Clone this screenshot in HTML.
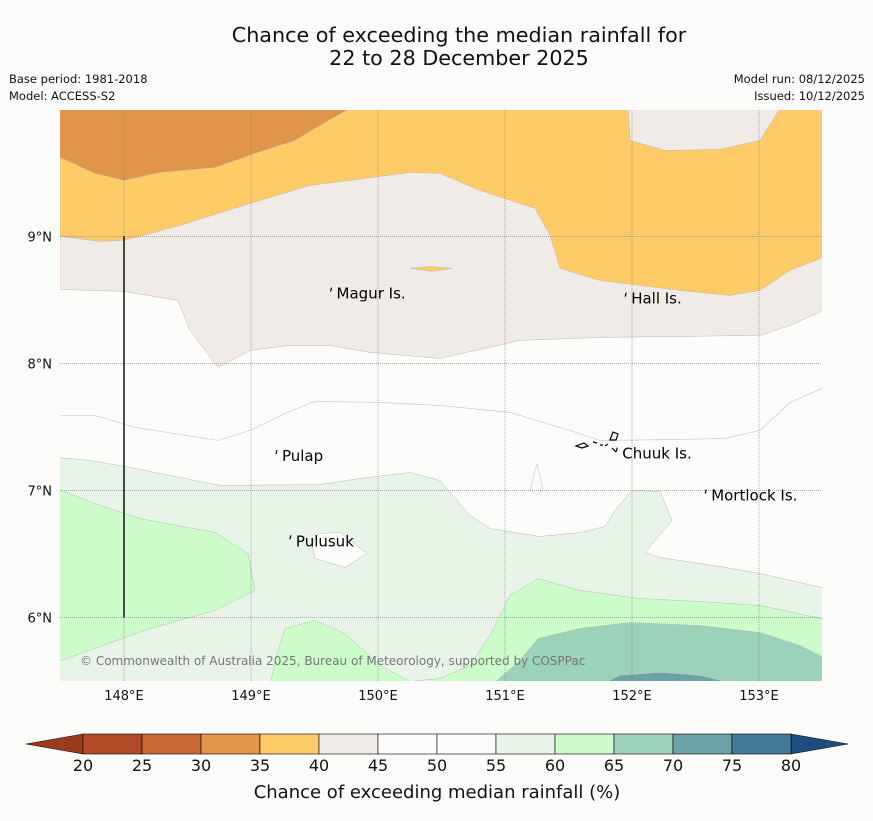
<!DOCTYPE html>
<html><head><meta charset="utf-8">
<style>
html,body{margin:0;padding:0;background:#fbfcfa;}
body{width:873px;height:816px;overflow:hidden;font-family:"Liberation Sans","DejaVu Sans",sans-serif;}
svg text{font-family:"DejaVu Sans","Liberation Sans",sans-serif;}
</style></head>
<body>
<svg id="chart" width="873" height="816" viewBox="0 0 873 816" xmlns="http://www.w3.org/2000/svg">
<rect width="873" height="816" fill="#fbfcfa"/>
<text x="459" y="42" font-size="20.7" text-anchor="middle" fill="#111">Chance of exceeding the median rainfall for</text>
<text x="459" y="65" font-size="20.7" text-anchor="middle" fill="#111">22 to 28 December 2025</text>
<text x="9" y="83" font-size="11.5" fill="#111">Base period: 1981-2018</text>
<text x="9" y="100" font-size="11.5" fill="#111">Model: ACCESS-S2</text>
<text x="865" y="83" font-size="11.5" text-anchor="end" fill="#111">Model run: 08/12/2025</text>
<text x="865" y="100" font-size="11.5" text-anchor="end" fill="#111">Issued: 10/12/2025</text>
<defs><clipPath id="mapclip"><rect x="60" y="110" width="762" height="571"/></clipPath></defs>
<g id="map" clip-path="url(#mapclip)"></g>
<g id="overlay"></g>
<g id="cbar"></g>
</svg>
<script>
const lonMin=147.5, lonMax=153.5, latMin=5.5, latMax=9.995;
const X0=60.5, X1=822.5, Y0=681, Y1=110;
function xs(lon){return X0+(lon-lonMin)/(lonMax-lonMin)*(X1-X0);}
function ys(lat){return Y0-(lat-latMin)/(latMax-latMin)*(Y0-Y1);}
function px2lon(x){return 148+(x-124)/127;}
function px2lat(y){return 9-(y-236)/127;}

const lonTicks=[148,149,150,151,152,153];
const latTicks=[6,7,8,9];
const cbLevels=[20,25,30,35,40,45,50,55,60,65,70,75,80];
const cbColors=["#b24a28","#ca6933","#e0954a","#fecb66","#f0ebe6","#fcfdfb","#fcfdfb","#e9f4e9","#ccfcca","#9cd2b9","#6aa2a6","#437b98"];

const bands=[
 {v:40,pts:[[60,105],[60,289],[124,291],[178,300],[190,330],[218,367],[250,350],[290,345],[330,345],[370,352],[440,358],[520,340],[600,337],[680,336],[760,335],[790,325],[826,309],[826,105]]},
 {v:35,pts:[[60,105],[60,236],[100,241],[124,240],[180,225],[250,203],[310,185],[350,180],[410,172],[440,173],[480,190],[535,208],[550,235],[560,268],[600,280],[680,290],[730,295],[760,290],[790,270],[826,256],[826,105]]},
 {v:40,pts:[[628,105],[630,140],[665,150],[720,149],[760,140],[782,105]]},
 {v:35,pts:[[410,268],[430,266],[452,268],[432,271]]},
 {v:30,pts:[[56,105],[56,155],[95,173],[124,180],[160,172],[215,167],[255,153],[295,140],[320,125],[355,105]]},
 {v:55,pts:[[56,457],[90,460],[130,467],[180,477],[220,485],[320,484],[360,478],[410,472],[440,480],[470,515],[490,528],[540,536],[580,532],[605,526],[615,510],[632,490],[660,491],[672,520],[645,552],[660,557],[720,566],[760,573],[826,588],[826,686],[56,686]]},
 {v:50,pts:[[318,533],[340,532],[367,553],[345,567],[315,558],[312,545]]},
 {v:50,pts:[[537,463],[543,490],[537,494],[530,490]]},
 {v:60,pts:[[56,488],[100,505],[140,518],[215,532],[248,553],[255,590],[215,610],[150,628],[56,662]]},
 {v:60,pts:[[270,686],[275,660],[285,628],[315,620],[345,633],[380,665],[410,681],[440,678],[470,665],[490,635],[510,595],[538,578],[580,590],[640,598],[700,601],[760,605],[826,619],[826,686]]},
 {v:65,pts:[[490,686],[520,660],[538,638],[580,628],[630,622],[700,625],[760,632],[800,645],[826,658],[826,686]]},
 {v:70,pts:[[598,686],[620,675],[660,672],[700,675],[745,686]]}
].map(b=>({v:b.v,pts:b.pts.map(p=>[px2lon(p[0]),px2lat(p[1])])}));
const line5055=[[60,415],[95,415],[135,427],[218,440],[250,430],[285,413],[315,401],[380,402],[440,405],[510,412],[570,430],[600,440],[680,439],[725,438],[760,430],[790,402],[822,388]].map(p=>[px2lon(p[0]),px2lat(p[1])]);

const places=[["Magur Is.",149.65,8.55],["Hall Is.",151.97,8.51],["Pulap",149.22,7.27],["Chuuk Is.",151.9,7.29],["Mortlock Is.",152.6,6.96],["Pulusuk",149.33,6.6]];

const NS="http://www.w3.org/2000/svg";
function mk(tag,attrs,parent){const e=document.createElementNS(NS,tag);for(const k in attrs)e.setAttribute(k,attrs[k]);parent.appendChild(e);return e;}
const map=document.getElementById('map');
const ov=document.getElementById('overlay');
const cb=document.getElementById('cbar');
function color(v){return cbColors[cbLevels.indexOf(v)];}
mk('rect',{x:60,y:110,width:762,height:571,fill:"#fcfdfb"},map);
bands.forEach((b,i)=>{
  const p=mk('polygon',{points:b.pts.map(q=>xs(q[0]).toFixed(1)+","+ys(q[1]).toFixed(1)).join(" "),fill:color(b.v),stroke:"#b8b8b8","stroke-width":0.5},map);
  
  
});
const cl=mk('polyline',{points:line5055.map(q=>xs(q[0])+","+ys(q[1])).join(" "),fill:"none",stroke:"#c8c8c8","stroke-width":0.7},map);


lonTicks.forEach(l=>{
  const g=mk('line',{x1:xs(l),x2:xs(l),y1:110,y2:681,stroke:"#777","stroke-width":0.6,"stroke-dasharray":"1,1"},ov);
  
  
  const t=mk('text',{x:xs(l),y:700,"font-size":13,"text-anchor":"middle",fill:"#111"},ov);t.textContent=l+"°E";
  
  
});
latTicks.forEach(l=>{
  const g=mk('line',{x1:60,x2:822,y1:ys(l),y2:ys(l),stroke:"#777","stroke-width":0.6,"stroke-dasharray":"1,1"},ov);
  
  
  const t=mk('text',{x:52,y:ys(l)+5,"font-size":13,"text-anchor":"end",fill:"#111"},ov);t.textContent=l+"°N";
  
  
});
const vl=mk('line',{x1:xs(148),x2:xs(148),y1:ys(9),y2:ys(6),stroke:"#111","stroke-width":1.5},ov);


places.forEach(p=>{
  const m=mk('path',{d:`M${xs(p[1])-3},${ys(p[2])-2} l1,-4`,stroke:"#000","stroke-width":1.2},ov);
  
  
  const t=mk('text',{x:xs(p[1])+3,y:ys(p[2])+5,"font-size":15,fill:"#000"},ov);t.textContent=p[0];
  
  
});
const ch=mk('path',{d:"M576,446 l8,-3 l4,3 l-6,2z M593,442 l4,1 M600,445 l3,0 M605,446 l3,-2 M610,440 l3,-8 l5,2 l-2,6z M612,448 l4,4",fill:"none",stroke:"#000","stroke-width":1.2},ov);


const cp=mk('text',{x:80,y:665,"font-size":12,fill:"#777"},ov);cp.textContent="© Commonwealth of Australia 2025, Bureau of Meteorology, supported by COSPPac";



const cbX0=83, cbW=59, cbY=734, cbH=20;
function cbx(v){return cbX0+(v-cbLevels[0])/(cbLevels[1]-cbLevels[0])*cbW;}
const la=mk('polygon',{points:`26,744 ${cbx(20)},${cbY} ${cbx(20)},${cbY+cbH}`,fill:"#9c3a1e",stroke:"#000","stroke-width":0.5},cb);


const ra=mk('polygon',{points:`848,744 ${cbx(80)},${cbY} ${cbx(80)},${cbY+cbH}`,fill:"#1c4e80",stroke:"#000","stroke-width":0.5},cb);


cbColors.forEach((c,i)=>{
  const r=mk('rect',{x:cbx(cbLevels[i]),y:cbY,width:cbx(cbLevels[i+1])-cbx(cbLevels[i]),height:cbH,fill:c,stroke:"#000","stroke-width":0.6},cb);
  
  
});
cbLevels.forEach(v=>{
  const t=mk('text',{x:cbx(v),y:771,"font-size":16,"text-anchor":"middle",fill:"#111"},cb);t.textContent=v;
  
  
});
const ct=mk('text',{x:437,y:798,"font-size":18,"text-anchor":"middle",fill:"#111"},cb);ct.textContent="Chance of exceeding median rainfall (%)";


</script>
</body></html>
